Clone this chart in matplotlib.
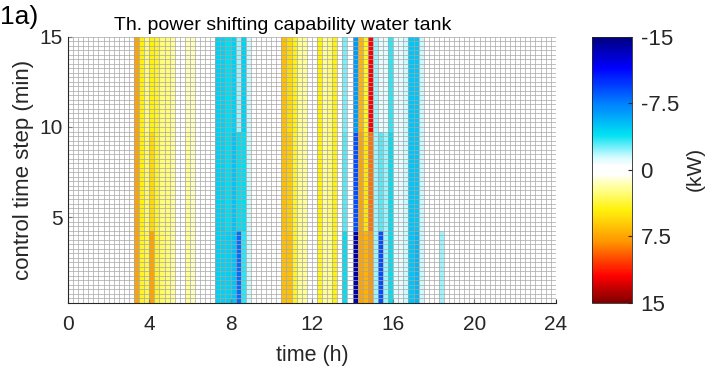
import numpy as np
import matplotlib
matplotlib.use("Agg")
import matplotlib.pyplot as plt
from matplotlib.colors import LinearSegmentedColormap, Normalize

plt.rcParams['font.family'] = ['Liberation Sans', 'DejaVu Sans']

# 15-min columns that are not zero (start hour) and their value (kW)
# read in three row bands: upper (~10-15 min), middle (~4-10), lower (~0-4)
col_hour = [3.25, 3.5, 3.75, 4.0, 4.25, 4.5, 4.75, 5.0, 5.75, 6.0,
            7.25, 7.5, 7.75, 8.0, 8.25, 8.5, 8.75,
            10.5, 10.75, 11.0, 11.25, 11.5, 12.25, 12.5, 12.75, 13.0,
            13.5, 14.0, 14.25, 14.5, 14.75, 15.0, 15.25, 15.5, 15.75,
            16.0, 16.25, 16.5, 16.75, 17.0, 17.25, 18.25]
top_kw = [7.5, 4.5, 2.5, 4.5, 4.0, 2.5, 2.5, 2.0, 1.5, 1.5,
          -4.5, -4.5, -4.0, -4.5, -2.0, -4.5, -1.5,
          6.5, 5.5, 4.5, 2.0, 2.0, 4.5, 2.0, 2.5, 4.5,
          -2.5, -6.5, 7.0, 4.0, 12.0, -2.0, -1.0, -1.0, -3.5,
          -1.0, -1.0, -1.5, -5.0, -5.0, -1.5, 0.0]
mid_kw = [7.5, 4.5, 3.0, 5.5, 4.0, 2.5, 2.5, 2.0, 2.0, 1.5,
          -4.5, -4.5, -4.0, -5.0, -4.0, -4.0, -1.5,
          6.5, 6.0, 4.0, 2.0, 2.0, 4.5, 2.0, 2.5, 4.5,
          -3.0, -9.0, 7.5, 5.0, 9.0, -2.0, -3.0, -2.0, -4.0,
          -1.0, -1.0, -1.5, -5.0, -5.0, -1.5, 0.0]
low_kw = [7.5, 4.0, 3.5, 7.5, 4.0, 3.0, 2.5, 2.0, 2.0, 1.5,
          -4.5, -4.5, -4.5, -5.0, -8.0, -3.5, -1.5,
          6.5, 6.5, 4.0, 2.0, 2.0, 4.0, 2.0, 2.0, 4.5,
          -4.0, -14.0, 7.5, 7.0, 8.0, -2.0, -9.0, -2.0, -4.0,
          -1.0, -1.0, -1.5, -5.0, -5.5, -1.5, -2.0]
band_top = [9.75, 4.25]  # y limits between upper/middle and middle/lower bands

x_edges = np.arange(0, 24.001, 0.25)
y_edges = np.arange(0.25, 15.001, 0.25)
y_mid = (y_edges[:-1] + y_edges[1:]) / 2

Z = np.zeros((len(y_mid), len(x_edges) - 1))
for h, t, m, l in zip(col_hour, top_kw, mid_kw, low_kw):
    j = int(round(h / 0.25))
    Z[y_mid >= band_top[0], j] = t
    Z[(y_mid < band_top[0]) & (y_mid >= band_top[1]), j] = m
    Z[y_mid < band_top[1], j] = l

nodes = [(-15, (0.0, 0.0, 0.5)), (-11.5, (0.0, 0.0, 1.0)), (-7.5, (0.0, 0.5, 1.0)),
         (-4, (0.0, 0.88, 0.95)), (-1.5, (0.8, 0.98, 1.0)), (-0.5, (1, 1, 1)),
         (0.5, (1, 1, 1)), (2, (1.0, 1.0, 0.6)), (4.5, (1.0, 0.95, 0.05)),
         (8, (1.0, 0.6, 0.0)), (12, (1.0, 0.0, 0.0)), (15, (0.5, 0.0, 0.0))]
cmap = LinearSegmentedColormap.from_list(
    'wt', [((v + 15) / 30, c) for v, c in nodes])
norm = Normalize(-15, 15)

dark = (0.15, 0.15, 0.15)
fig = plt.figure(figsize=(7.08, 3.68), dpi=100)
ax = fig.add_axes([0.096, 0.177, 0.689, 0.723])
mesh = ax.pcolormesh(x_edges, y_edges, Z, cmap=cmap, norm=norm, shading='flat')
ax.vlines(x_edges, y_edges[0], y_edges[-1], color=(0.65, 0.65, 0.65), linewidth=0.5)
ax.hlines(y_edges, x_edges[0], x_edges[-1], color=(0.65, 0.65, 0.65), linewidth=0.5)
ax.set_xlim(0, 24)
ax.set_ylim(0.25, 15)
ax.set_xticks([0, 4, 8, 12, 16, 20, 24])
ax.set_yticks([5, 10, 15])
ax.tick_params(labelsize=15, colors=dark, direction='in', length=3)
ax.tick_params(axis='x', pad=9)
for s in ['top', 'right']:
    ax.spines[s].set_visible(False)
for s in ['left', 'bottom']:
    ax.spines[s].set_color(dark)
    ax.spines[s].set_linewidth(0.8)
ax.set_xlabel('time (h)', fontsize=15.5, color=dark, labelpad=8)
ax.set_ylabel('control time step (min)', fontsize=16, color=dark, labelpad=4)
ax.set_title('Th. power shifting capability water tank', fontsize=14, pad=5, x=0.44)
fig.text(0.0, 0.955, '1a)', fontsize=19, va='center', ha='left')

cax = fig.add_axes([0.836, 0.177, 0.057, 0.723])
cb = fig.colorbar(mesh, cax=cax)
cb.set_ticks([-15, -7.5, 0, 7.5, 15])
cb.set_ticklabels(['-15', '-7.5', '0', '7.5', '15'])
cax.invert_yaxis()
cax.tick_params(labelsize=16, colors=dark, direction='in', length=3, pad=6)
cb.outline.set_edgecolor(dark)
cb.outline.set_linewidth(0.6)
fig.text(0.982, 0.54, '(kW)', fontsize=15, color=dark, rotation=90,
         ha='center', va='center')

fig.savefig('out.png', dpi=100)
